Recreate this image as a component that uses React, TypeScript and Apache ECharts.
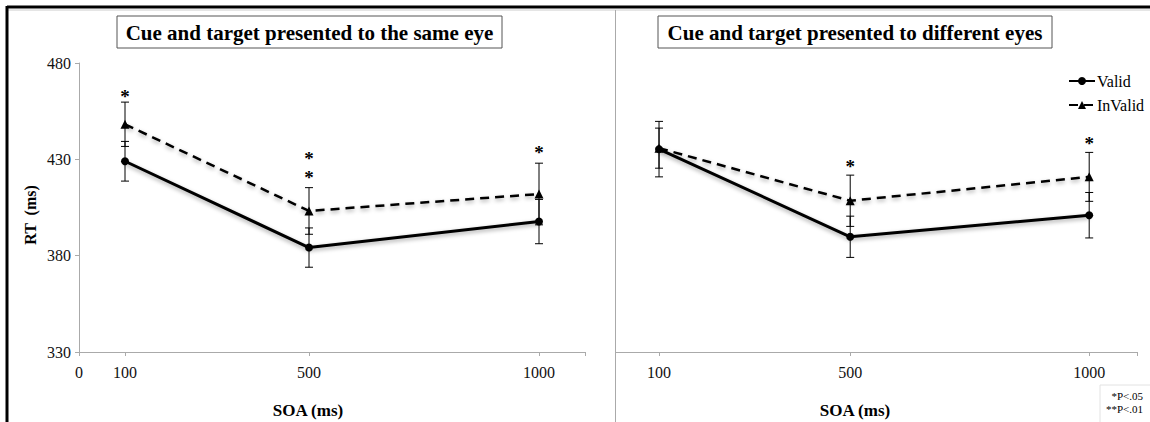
import React, { useEffect, useRef } from "react";
import * as echarts from "echarts";

const soa = [100, 500, 1000];
const sameValid = [429, 384.2, 397.7];
const sameInvalid = [448.2, 403.2, 412];
const sameValidErr = [10.3, 10.2, 11.5];
const sameInvalidErr = [11.5, 12.1, 16];
const diffValid = [435.3, 389.8, 401];
const diffInvalid = [435.8, 408.5, 420.9];
const diffValidErr = [14.4, 10.7, 11.8];
const diffInvalidErr = [10.4, 13.3, 12.7];
const sameStarX = [100, 500, 1000];
const sameStarY = [464.3, 427.2, 434.9];
const sameStarText = ["*", "*\n*", "*"];
const diffStarX = [500, 1000];
const diffStarY = [427.9, 440];
const diffStarText = ["*", "*"];
const yTicks = [330, 380, 430, 480];
const sameXLabels = [0, 100, 500, 1000];
const sameXTicks = [0, 100, 500, 1000, 1100];
const diffXLabels = [100, 500, 1000];
const diffXTicks = [100, 500, 1000, 1100];

const SERIF = "'Liberation Serif', 'Times New Roman', serif";

function errorSeries(xs: number[], ys: number[], es: number[], gi: number) {
  return {
    type: "custom",
    xAxisIndex: gi,
    yAxisIndex: gi,
    silent: true,
    z: 2,
    itemStyle: { color: "#000" },
    encode: { x: 0, y: 1 },
    data: xs.map((x, i) => [x, ys[i], es[i]]),
    renderItem: (params: any, api: any) => {
      const x = api.value(0);
      const y = api.value(1);
      const e = api.value(2);
      const t = api.coord([x, y + e]);
      const b = api.coord([x, y - e]);
      const w = 4;
      const st = { stroke: "#000", lineWidth: 1 };
      return {
        type: "group",
        children: [
          { type: "line", shape: { x1: t[0], y1: t[1], x2: b[0], y2: b[1] }, style: st },
          { type: "line", shape: { x1: t[0] - w, y1: t[1], x2: t[0] + w, y2: t[1] }, style: st },
          { type: "line", shape: { x1: b[0] - w, y1: b[1], x2: b[0] + w, y2: b[1] }, style: st },
        ],
      };
    },
  };
}

function starSeries(xs: number[], ys: number[], texts: string[], gi: number) {
  return {
    type: "custom",
    xAxisIndex: gi,
    yAxisIndex: gi,
    silent: true,
    z: 5,
    itemStyle: { color: "#000" },
    encode: { x: 0, y: 1 },
    data: xs.map((x, i) => [x, ys[i]]),
    renderItem: (params: any, api: any) => {
      const p = api.coord([api.value(0), api.value(1)]);
      return {
        type: "text",
        x: p[0],
        y: p[1] + 3,
        style: {
          text: texts[params.dataIndex],
          align: "center",
          verticalAlign: "middle",
          fontSize: 19,
          fontWeight: "bold",
          lineHeight: 19,
          fontFamily: SERIF,
          fill: "#000",
          opacity: 1,
        },
      };
    },
  };
}

function lineSeries(name: string, xs: number[], ys: number[], gi: number, dashed: boolean) {
  return {
    type: "line",
    name,
    xAxisIndex: gi,
    yAxisIndex: gi,
    z: 4,
    data: xs.map((x, i) => [x, ys[i]]),
    symbol: dashed ? "triangle" : "circle",
    symbolSize: dashed ? 9 : 8,
    itemStyle: { color: "#000" },
    lineStyle: {
      color: "#000",
      width: dashed ? 2.5 : 3,
      type: dashed ? [9, 6] : "solid",
      shadowColor: "rgba(0,0,0,0.35)",
      shadowBlur: 4,
      shadowOffsetY: 2,
    },
  };
}

function xAxis(gi: number, min: number, max: number, labels: number[], ticks: number[]) {
  return {
    gridIndex: gi,
    type: "value",
    min,
    max,
    axisLine: { show: true, onZero: false, lineStyle: { color: "#aaa", width: 1 } },
    axisTick: { show: true, length: 4, customValues: ticks, lineStyle: { color: "#aaa" } },
    axisLabel: {
      customValues: labels,
      formatter: (v: number) => String(v),
      margin: 12,
      fontFamily: SERIF,
      fontSize: 16,
      color: "#111",
    },
    splitLine: { show: false },
  };
}

function yAxis(gi: number, showLabels: boolean) {
  return {
    gridIndex: gi,
    type: "value",
    min: 330,
    max: 480,
    axisLine: { show: showLabels, onZero: false, lineStyle: { color: "#aaa", width: 1 } },
    axisTick: { show: showLabels, length: 4, customValues: yTicks, lineStyle: { color: "#aaa" } },
    axisLabel: {
      show: showLabels,
      customValues: yTicks,
      formatter: (v: number) => String(v),
      margin: 8,
      fontFamily: SERIF,
      fontSize: 16,
      color: "#111",
    },
    splitLine: { show: false },
  };
}

function titleBox(text: string, x: number, y: number, w: number, h: number) {
  return {
    type: "group",
    children: [
      { type: "rect", shape: { x, y, width: w, height: h }, style: { fill: "#fff", stroke: "#555", lineWidth: 1 } },
      {
        type: "text",
        x: x + w / 2,
        y: y + h / 2 + 1,
        style: {
          text,
          align: "center",
          verticalAlign: "middle",
          fontFamily: SERIF,
          fontWeight: "bold",
          fontSize: 21,
          fill: "#000",
        },
      },
    ],
  };
}

export default function App() {
  const ref = useRef<HTMLDivElement>(null);
  useEffect(() => {
    if (!ref.current) return;
    const chart = echarts.init(ref.current, undefined, { renderer: "svg" });
    const option: any = {
      animation: false,
      backgroundColor: "#fff",
      grid: [
        { left: 79, top: 63, width: 506, height: 289 },
        { left: 616, top: 63, width: 521, height: 289 },
      ],
      xAxis: [
        xAxis(0, 0, 1100, sameXLabels, sameXTicks),
        xAxis(1, 10, 1100, diffXLabels, diffXTicks),
      ],
      yAxis: [yAxis(0, true), yAxis(1, false)],
      legend: {
        data: ["Valid", "InValid"],
        orient: "vertical",
        left: 1068,
        top: 73,
        padding: 0,
        itemWidth: 26,
        itemHeight: 10,
        itemGap: 8,
        textStyle: { fontFamily: SERIF, fontSize: 16, color: "#000", padding: [0, 0, 0, -3] },
      },
      series: [
        errorSeries(soa, sameValid, sameValidErr, 0),
        errorSeries(soa, sameInvalid, sameInvalidErr, 0),
        errorSeries(soa, diffValid, diffValidErr, 1),
        errorSeries(soa, diffInvalid, diffInvalidErr, 1),
        lineSeries("Valid", soa, sameValid, 0, false),
        lineSeries("InValid", soa, sameInvalid, 0, true),
        lineSeries("Valid", soa, diffValid, 1, false),
        lineSeries("InValid", soa, diffInvalid, 1, true),
        starSeries(sameStarX, sameStarY, sameStarText, 0),
        starSeries(diffStarX, diffStarY, diffStarText, 1),
      ],
      graphic: [
        { type: "line", shape: { x1: 7, y1: 7, x2: 1150, y2: 7 }, style: { stroke: "#000", lineWidth: 3 } },
        { type: "line", shape: { x1: 8, y1: 10, x2: 1150, y2: 10 }, style: { stroke: "#ccc", lineWidth: 1 } },
        { type: "line", shape: { x1: 7, y1: 6, x2: 7, y2: 422 }, style: { stroke: "#000", lineWidth: 3 } },
        { type: "line", shape: { x1: 615.5, y1: 10, x2: 615.5, y2: 422 }, style: { stroke: "#aaa", lineWidth: 1 } },
        titleBox("Cue and target presented to the same eye", 117, 16, 385, 32),
        titleBox("Cue and target presented to different eyes", 658, 16, 394, 32),
        {
          type: "text",
          x: 30,
          y: 215,
          rotation: Math.PI / 2,
          style: {
            text: "RT  (ms)",
            align: "center",
            verticalAlign: "middle",
            fontFamily: SERIF,
            fontWeight: "bold",
            fontSize: 16,
            fill: "#000",
          },
        },
        {
          type: "text",
          x: 308,
          y: 410,
          style: { text: "SOA (ms)", align: "center", verticalAlign: "middle", fontFamily: SERIF, fontWeight: "bold", fontSize: 17, fill: "#000" },
        },
        {
          type: "text",
          x: 855,
          y: 410,
          style: { text: "SOA (ms)", align: "center", verticalAlign: "middle", fontFamily: SERIF, fontWeight: "bold", fontSize: 17, fill: "#000" },
        },
        { type: "rect", shape: { x: 1100, y: 385, width: 60, height: 50 }, style: { fill: "#fff", stroke: "#e2e2e2", lineWidth: 1 } },
        {
          type: "text",
          x: 1143,
          y: 396,
          style: { text: "*P<.05", align: "right", verticalAlign: "middle", fontFamily: SERIF, fontSize: 11, fill: "#000" },
        },
        {
          type: "text",
          x: 1143,
          y: 409,
          style: { text: "**P<.01", align: "right", verticalAlign: "middle", fontFamily: SERIF, fontSize: 11, fill: "#000" },
        },
      ],
    };
    chart.setOption(option);
    return () => chart.dispose();
  }, []);
  return (
    <div
      ref={ref}
      style={{ position: "absolute", left: 0, top: 0, width: 1150, height: 422, background: "#fff" }}
    />
  );
}
